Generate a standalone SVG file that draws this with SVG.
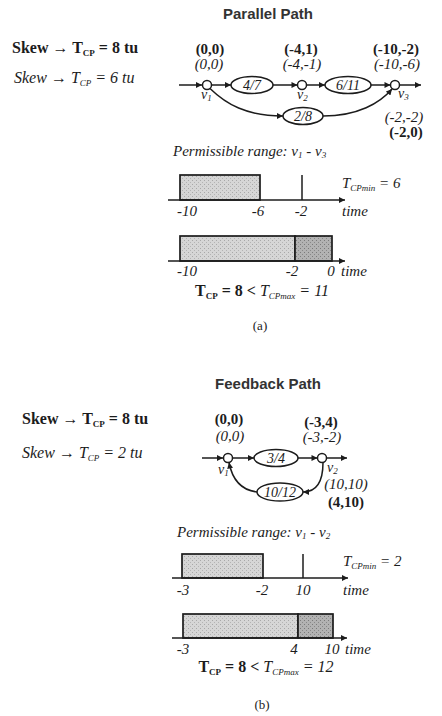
<svg xmlns="http://www.w3.org/2000/svg" width="442" height="716" viewBox="0 0 442 716">
<style>
text{fill:#1c1c1c;font-family:"Liberation Serif","Times New Roman",serif}
.title{font-family:"Liberation Sans",Arial,sans-serif;font-weight:bold;font-size:15px;fill:#333;text-anchor:middle}
.b{font-family:"Liberation Serif","Times New Roman",serif;font-weight:bold;font-size:16px}
.i{font-family:"Liberation Serif","Times New Roman",serif;font-style:italic;font-size:16px}
.lb{font-family:"Liberation Serif","Times New Roman",serif;font-weight:bold;font-size:15px;text-anchor:middle}
.li{font-family:"Liberation Serif","Times New Roman",serif;font-style:italic;font-size:15px;text-anchor:middle}
.w{font-style:italic;font-size:14px;text-anchor:middle}
.v{font-style:italic;font-size:14px}
.sub{font-size:9px}
.tk{font-style:italic;font-size:15px;text-anchor:middle}
.tm{font-style:italic;font-size:15px}
.cap{font-size:13px;text-anchor:middle}
.ln{fill:none;stroke:#1c1c1c;stroke-width:1.5}
.nd{fill:#fff;stroke:#1c1c1c;stroke-width:1.5}
.bar{stroke:#1c1c1c;stroke-width:1.7}
</style>
<defs>
<marker id="ah" viewBox="0 0 10 10" refX="10" refY="5" markerWidth="7" markerHeight="6" markerUnits="userSpaceOnUse" orient="auto"><path d="M0,0 L10,5 L0,10 z" fill="#1c1c1c"/></marker>
<pattern id="lt" width="4" height="4" patternUnits="userSpaceOnUse"><rect width="4" height="4" fill="#d6d6d6"/><rect x="0" y="0" width="1" height="1" fill="#a8a8a8"/><rect x="2" y="2" width="1" height="1" fill="#b4b4b4"/></pattern>
<pattern id="dk" width="4" height="4" patternUnits="userSpaceOnUse"><rect width="4" height="4" fill="#b2b2b2"/><rect x="0" y="0" width="1" height="1" fill="#7a7a7a"/><rect x="2" y="2" width="1" height="1" fill="#888"/></pattern>
</defs>

<!-- ===== Part (a) ===== -->
<text class="title" x="268" y="19">Parallel Path</text>
<text class="b" x="12" y="53">Skew → T<tspan class="sub" dy="3">CP</tspan><tspan dy="-3"> = 8 tu</tspan></text>
<text class="i" x="14" y="83">Skew → T<tspan class="sub" dy="3">CP</tspan><tspan dy="-3">  = 6 tu</tspan></text>

<text class="lb" x="210" y="54">(0,0)</text>
<text class="lb" x="301" y="54">(-4,1)</text>
<text class="lb" x="396" y="54">(-10,-2)</text>
<text class="li" x="209" y="69">(0,0)</text>
<text class="li" x="302" y="69">(-4,-1)</text>
<text class="li" x="397" y="69">(-10,-6)</text>

<g id="a-connectors">
<path class="ln" d="M179,85 H202" marker-end="url(#ah)"/>
<path class="ln" d="M211.5,85 H231" marker-end="url(#ah)"/>
<path class="ln" d="M273,85 H297.5" marker-end="url(#ah)"/>
<path class="ln" d="M306.5,85 H325" marker-end="url(#ah)"/>
<path class="ln" d="M371,85 H390.5" marker-end="url(#ah)"/>
<path class="ln" d="M399.5,85 H421" marker-end="url(#ah)"/>
<path class="ln" d="M210,88.5 C226,104 246,116 283,116" marker-end="url(#ah)"/>
<path class="ln" d="M323,116 C358,116 380,103 392,89" marker-end="url(#ah)"/>
</g>

<g id="a-v1"><circle class="nd" cx="207" cy="85" r="4.5"/><text class="v" x="201" y="99">v<tspan class="sub" dy="2">1</tspan></text></g>
<g id="a-w47"><ellipse class="nd" cx="252" cy="85" rx="21" ry="8.5"/><text class="w" x="252" y="90">4/7</text></g>
<g id="a-v2"><circle class="nd" cx="302" cy="85" r="4.5"/><text class="v" x="297" y="99">v<tspan class="sub" dy="2">2</tspan></text></g>
<g id="a-w611"><ellipse class="nd" cx="348" cy="85" rx="23" ry="8.5"/><text class="w" x="348" y="90">6/11</text></g>
<g id="a-v3"><circle class="nd" cx="395" cy="85" r="4.5"/><text class="v" x="398" y="98">v<tspan class="sub" dy="2">3</tspan></text></g>
<g id="a-w28"><ellipse class="nd" cx="303" cy="116" rx="20" ry="8.5"/><text class="w" x="303" y="121">2/8</text></g>

<text class="li" x="404" y="122">(-2,-2)</text>
<text class="lb" x="406" y="137">(-2,0)</text>

<text class="tm" x="173" y="156">Permissible range: v<tspan class="sub" dy="2">1</tspan><tspan dy="-2"> - v</tspan><tspan class="sub" dy="2">3</tspan></text>

<g id="a-range1">
<rect class="bar" x="180" y="175" width="80" height="25" fill="url(#lt)"/>
<path class="ln" d="M302,175 V200"/>
<path class="ln" d="M168,200 H345" marker-end="url(#ah)"/>
<text class="tm" x="342" y="188">T<tspan class="sub" dy="3">CPmin</tspan><tspan dy="-3"> = 6</tspan></text>
<text class="tk" x="187" y="216">-10</text>
<text class="tk" x="258" y="216">-6</text>
<text class="tk" x="301" y="216">-2</text>
<text class="tm" x="342" y="216">time</text>
</g>
<g id="a-range2">
<rect class="bar" x="180" y="236" width="115" height="25" fill="url(#lt)"/>
<rect class="bar" x="295" y="236" width="37" height="25" fill="url(#dk)"/>
<path class="ln" d="M168,261 H345" marker-end="url(#ah)"/>
<text class="tk" x="187" y="276">-10</text>
<text class="tk" x="292" y="276">-2</text>
<text class="tk" x="331" y="276">0</text>
<text class="tm" x="341" y="276">time</text>
</g>
<text x="262" y="296" style="font-size:16px;text-anchor:middle"><tspan font-weight="bold">T<tspan class="sub" dy="3">CP</tspan><tspan dy="-3"> = 8 &lt; </tspan></tspan><tspan font-style="italic">T<tspan class="sub" dy="3">CPmax</tspan><tspan dy="-3"> = 11</tspan></tspan></text>
<text class="cap" x="260" y="330">(a)</text>

<!-- ===== Part (b) ===== -->
<text class="title" x="268" y="389">Feedback Path</text>
<text class="b" x="22" y="424">Skew → T<tspan class="sub" dy="3">CP</tspan><tspan dy="-3"> = 8 tu</tspan></text>
<text class="i" x="22" y="458">Skew → T<tspan class="sub" dy="3">CP</tspan><tspan dy="-3">  = 2 tu</tspan></text>

<text class="lb" x="229" y="424">(0,0)</text>
<text class="lb" x="321" y="427">(-3,4)</text>
<text class="li" x="230" y="441">(0,0)</text>
<text class="li" x="322" y="442">(-3,-2)</text>

<g id="b-connectors">
<path class="ln" d="M202,458 H223" marker-end="url(#ah)"/>
<path class="ln" d="M232.5,458 H254" marker-end="url(#ah)"/>
<path class="ln" d="M298,458 H317.5" marker-end="url(#ah)"/>
<path class="ln" d="M326.5,458 H347" marker-end="url(#ah)"/>
<path class="ln" d="M323,462.5 C323,480 318,492 303,492" marker-end="url(#ah)"/>
<path class="ln" d="M257,492 C240,490 232,478 229,462.5" marker-end="url(#ah)"/>
</g>

<g id="b-v1"><circle class="nd" cx="228" cy="458" r="4.5"/><text class="v" x="218" y="474">v<tspan class="sub" dy="2">1</tspan></text></g>
<g id="b-w34"><ellipse class="nd" cx="276" cy="458" rx="22" ry="8.5"/><text class="w" x="276" y="463">3/4</text></g>
<g id="b-v2"><circle class="nd" cx="322" cy="458" r="4.5"/><text class="v" x="327" y="472">v<tspan class="sub" dy="2">2</tspan></text></g>
<g id="b-w1012"><ellipse class="nd" cx="280" cy="492" rx="23" ry="9"/><text class="w" x="280" y="497">10/12</text></g>

<text class="li" x="346" y="489">(10,10)</text>
<text class="lb" x="346" y="507">(4,10)</text>

<text class="tm" x="177" y="537">Permissible range: v<tspan class="sub" dy="2">1</tspan><tspan dy="-2"> - v</tspan><tspan class="sub" dy="2">2</tspan></text>

<g id="b-range1">
<rect class="bar" x="182" y="554" width="81" height="24" fill="url(#lt)"/>
<path class="ln" d="M303,554 V578"/>
<path class="ln" d="M172,578 H348" marker-end="url(#ah)"/>
<text class="tm" x="343" y="566">T<tspan class="sub" dy="3">CPmin</tspan><tspan dy="-3"> = 2</tspan></text>
<text class="tk" x="183" y="595">-3</text>
<text class="tk" x="262" y="595">-2</text>
<text class="tk" x="303" y="595">10</text>
<text class="tm" x="343" y="595">time</text>
</g>
<g id="b-range2">
<rect class="bar" x="183" y="614" width="115" height="24" fill="url(#lt)"/>
<rect class="bar" x="298" y="614" width="35" height="24" fill="url(#dk)"/>
<path class="ln" d="M172,638 H347" marker-end="url(#ah)"/>
<text class="tk" x="183" y="654">-3</text>
<text class="tk" x="294" y="654">4</text>
<text class="tk" x="332" y="654">10</text>
<text class="tm" x="345" y="654">time</text>
</g>
<text x="266" y="672" style="font-size:16px;text-anchor:middle"><tspan font-weight="bold">T<tspan class="sub" dy="3">CP</tspan><tspan dy="-3"> = 8 &lt; </tspan></tspan><tspan font-style="italic">T<tspan class="sub" dy="3">CPmax</tspan><tspan dy="-3"> = 12</tspan></tspan></text>
<text class="cap" x="262" y="709">(b)</text>
</svg>
